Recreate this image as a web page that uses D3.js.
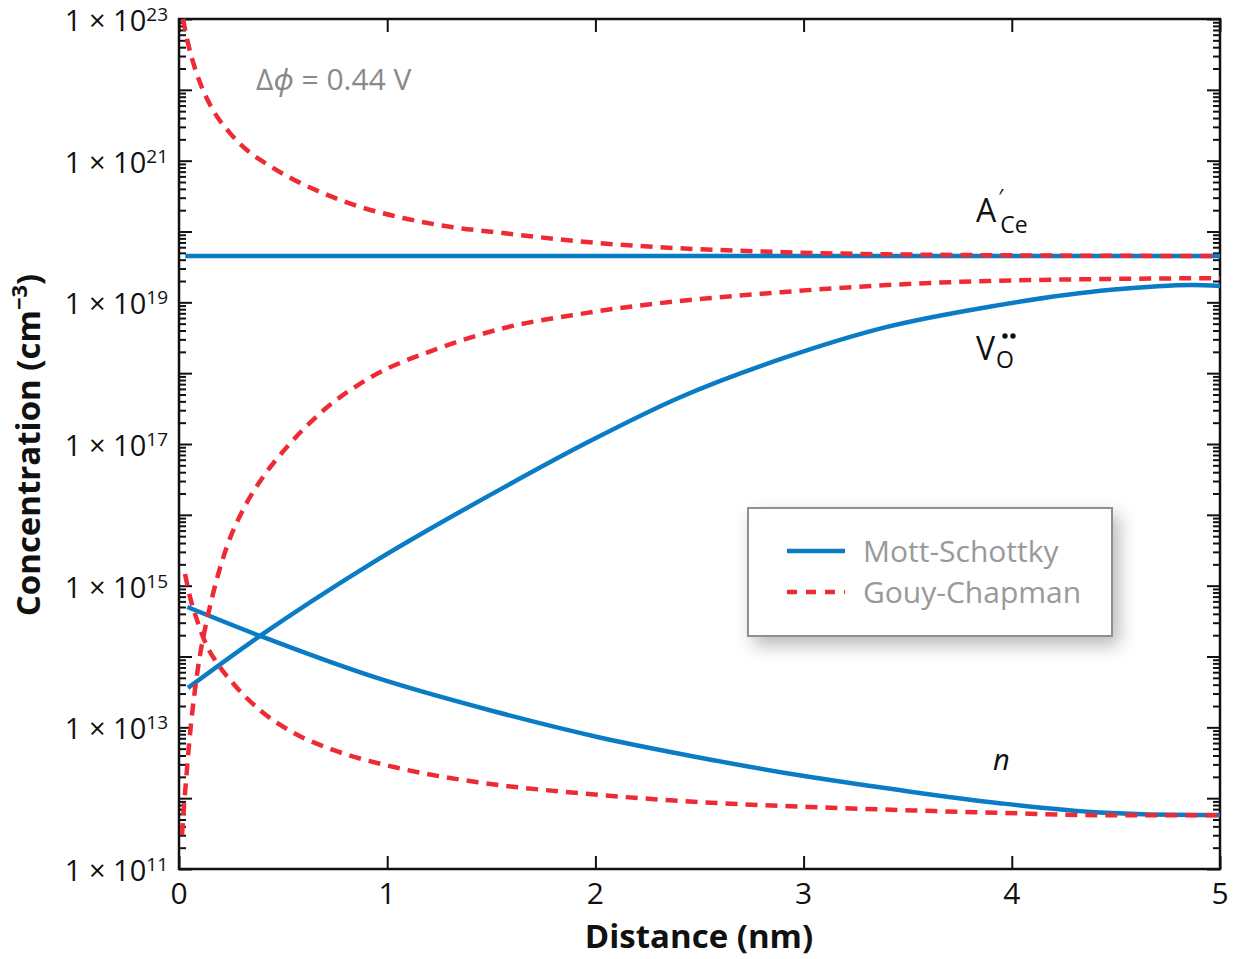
<!DOCTYPE html>
<html>
<head>
<meta charset="utf-8">
<script src="https://cdn.jsdelivr.net/npm/d3@7"></script>
<style>
  body { margin: 0; background: #fff; }
  svg { display: block; font-family: "Open Sans", "Noto Sans", sans-serif; }
</style>
</head>
<body>
<svg width="1238" height="959"></svg>
<script>
// ---- data (distance in nm, concentration in cm^-3) ----
var msAceX = [0.03, 5.0];
var msAceY = [4.5e19, 4.5e19];

var msVoX = [0.043, 0.389, 0.917, 1.556, 1.974, 2.402, 2.906, 3.401, 3.886, 4.476, 4.866, 5.0];
var msVoY = [3.6e13, 1.95e14, 2.0e15, 2.4e16, 1.1e17, 4.5e17, 1.64e18, 4.5e18, 8.6e18, 1.5e19, 1.76e19, 1.7e19];

var msNX = [0.04, 0.39, 0.94, 1.52, 2.02, 2.51, 2.98, 3.46, 3.94, 4.42, 4.90, 5.0];
var msNY = [5.0e14, 1.95e14, 5.1e13, 1.66e13, 7.2e12, 3.7e12, 2.1e12, 1.3e12, 8.5e11, 6.3e11, 5.8e11, 5.8e11];

var gcAceX = [0.019, 0.043, 0.077, 0.115, 0.163, 0.245, 0.341, 0.437, 0.567, 0.69, 0.855, 1.076, 1.316, 1.556, 1.96, 2.906, 3.593, 5.0];
var gcAceY = [1e23, 4.6e22, 2.0e22, 1.0e22, 5.2e21, 2.45e21, 1.3e21, 8.4e20, 5.1e20, 3.5e20, 2.3e20, 1.55e20, 1.15e20, 9.5e19, 7.1e19, 5.1e19, 4.7e19, 4.5e19];

var gcVoX = [0.0144, 0.024, 0.034, 0.048, 0.0624, 0.0817, 0.101, 0.130, 0.163, 0.2305, 0.307, 0.403, 0.519, 0.677, 0.917, 1.239, 1.556, 1.96, 2.906, 3.886, 5.0];
var gcVoY = [3.0e11, 7.8e11, 1.8e12, 5.6e12, 1.5e13, 4.4e13, 1.05e14, 2.9e14, 7.6e14, 3.6e15, 1.17e16, 3.4e16, 9.1e16, 2.7e17, 8.6e17, 2.2e18, 4.3e18, 7.1e18, 1.4e19, 2.0e19, 2.2e19];

var gcNX = [0.029, 0.053, 0.082, 0.110, 0.139, 0.173, 0.250, 0.389, 0.543, 0.740, 1.033, 1.427, 1.916, 2.502, 3.031, 3.463, 3.943, 4.424, 5.0];
var gcNY = [1.46e15, 6.9e14, 3.6e14, 2.07e14, 1.32e14, 8.9e13, 4.5e13, 1.75e13, 8.6e12, 4.8e12, 2.75e12, 1.69e12, 1.18e12, 8.8e11, 7.5e11, 6.8e11, 6.2e11, 5.75e11, 5.75e11];

var xTicks = [0, 1, 2, 3, 4, 5];
var yLabelExps = [11, 13, 15, 17, 19, 21, 23];
var legendNames = ["Mott-Schottky", "Gouy-Chapman"];

var blue = "#0a7cc6";
var red = "#ee2a35";

var svg = d3.select("svg");
var pLeft = 179, pRight = 1220, pTop = 19, pBottom = 869;

var x = d3.scaleLinear().domain([0, 5]).range([pLeft, pRight]);
var y = d3.scaleLog().domain([1e11, 1e23]).range([pBottom, pTop]);

// shadow for legend
var defs = svg.append("defs");
var f = defs.append("filter").attr("id", "shadow")
  .attr("x", "-20%").attr("y", "-30%").attr("width", "150%").attr("height", "170%");
f.append("feDropShadow").attr("dx", 6).attr("dy", 8).attr("stdDeviation", 9)
  .attr("flood-color", "#000").attr("flood-opacity", 0.28);

// ---- ticks ----
var majors = d3.range(11, 24).map(function (e) { return Math.pow(10, e); });
var minors = [];
for (var e = 11; e < 23; e++) {
  for (var k = 2; k <= 9; k++) minors.push(k * Math.pow(10, e));
}

function yAxis(gen, vals, size, tx) {
  svg.append("g").attr("transform", "translate(" + tx + ",0)")
    .call(gen(y).tickValues(vals).tickSize(size).tickFormat(""))
    .call(function (g) { g.select(".domain").remove(); })
    .selectAll("line").attr("stroke", "#111").attr("stroke-width", 2);
}
yAxis(d3.axisLeft, majors, -13, pLeft);
yAxis(d3.axisLeft, minors, -7, pLeft);
yAxis(d3.axisRight, majors, -13, pRight);
yAxis(d3.axisRight, minors, -7, pRight);

function xAxis(gen, ty) {
  svg.append("g").attr("transform", "translate(0," + ty + ")")
    .call(gen(x).tickValues(xTicks).tickSize(-13).tickFormat(""))
    .call(function (g) { g.select(".domain").remove(); })
    .selectAll("line").attr("stroke", "#111").attr("stroke-width", 2);
}
xAxis(d3.axisBottom, pBottom);
xAxis(d3.axisTop, pTop);

// frame
svg.append("rect").attr("x", pLeft).attr("y", pTop)
  .attr("width", pRight - pLeft).attr("height", pBottom - pTop)
  .attr("fill", "none").attr("stroke", "#111").attr("stroke-width", 2.5);

// tick labels
xTicks.forEach(function (t) {
  svg.append("text").attr("x", x(t)).attr("y", pBottom + 35)
    .attr("text-anchor", "middle").attr("font-size", 30).attr("fill", "#111").text(t);
});
yLabelExps.forEach(function (ex) {
  var t = svg.append("text").attr("x", 168).attr("y", y(Math.pow(10, ex)) + 12)
    .attr("text-anchor", "end").attr("font-size", 29).attr("fill", "#111");
  t.append("tspan").text("1 \u00d7 10");
  t.append("tspan").attr("dy", -10).attr("font-size", 19).text(ex);
});

// axis titles
svg.append("text").attr("x", 699).attr("y", 948).attr("text-anchor", "middle")
  .attr("font-size", 33).attr("font-weight", "bold").attr("fill", "#111")
  .text("Distance (nm)");
var yt = svg.append("text").attr("transform", "translate(40,445) rotate(-90)")
  .attr("text-anchor", "middle").attr("font-size", 33).attr("font-weight", "bold").attr("fill", "#111");
yt.append("tspan").text("Concentration (cm");
yt.append("tspan").attr("dy", -13).attr("font-size", 22).text("\u22123");
yt.append("tspan").attr("dy", 13).text(")");

// ---- curves ----
var line = d3.line().x(function (d) { return x(d[0]); }).y(function (d) { return y(d[1]); })
  .curve(d3.curveMonotoneX);

function series(xs, ys) { return xs.map(function (v, i) { return [v, ys[i]]; }); }

var plot = svg.append("g");
function draw(xs, ys, color, dashed) {
  plot.append("path").datum(series(xs, ys)).attr("d", line)
    .attr("fill", "none").attr("stroke", color).attr("stroke-width", 4.5)
    .attr("stroke-dasharray", dashed ? "12,8" : null);
}
draw(msAceX, msAceY, blue, false);
draw(msVoX, msVoY, blue, false);
draw(msNX, msNY, blue, false);
draw(gcAceX, gcAceY, red, true);
draw(gcVoX, gcVoY, red, true);
draw(gcNX, gcNY, red, true);

// ---- annotations ----
var dp = svg.append("text").attr("x", 256).attr("y", 90).attr("font-size", 30).attr("fill", "#8a8a8a");
dp.append("tspan").text("\u0394");
dp.append("tspan").attr("font-style", "italic").text("\u03d5");
dp.append("tspan").text(" = 0.44 V");

var a = svg.append("text").attr("x", 976).attr("y", 222).attr("font-size", 32).attr("fill", "#111");
a.append("tspan").text("A");
a.append("tspan").attr("dx", 2).attr("dy", -17).attr("font-size", 22).text("\u2032");
a.append("tspan").attr("dx", -3).attr("dy", 28).attr("font-size", 23).text("Ce");

var v = svg.append("text").attr("x", 976).attr("y", 360).attr("font-size", 32).attr("fill", "#111");
v.append("tspan").text("V");
v.append("tspan").attr("dx", 1).attr("dy", 8).attr("font-size", 23).text("O");
svg.append("circle").attr("cx", 1005).attr("cy", 336).attr("r", 2.7).attr("fill", "#111");
svg.append("circle").attr("cx", 1013).attr("cy", 336).attr("r", 2.7).attr("fill", "#111");

svg.append("text").attr("x", 993).attr("y", 770).attr("font-size", 29)
  .attr("font-style", "italic").attr("fill", "#111").text("n");

// ---- legend ----
var lg = svg.append("g");
lg.append("rect").attr("x", 748).attr("y", 508).attr("width", 364).attr("height", 128)
  .attr("fill", "#fff").attr("stroke", "#8f8f8f").attr("stroke-width", 2)
  .attr("filter", "url(#shadow)");
[blue, red].forEach(function (c, i) {
  var yy = 551 + i * 41;
  lg.append("line").attr("x1", 787).attr("x2", 845).attr("y1", yy).attr("y2", yy)
    .attr("stroke", c).attr("stroke-width", 4.5).attr("stroke-dasharray", i ? "10,9" : null);
  lg.append("text").attr("x", 863).attr("y", yy + 11).attr("font-size", 30)
    .attr("fill", "#999").text(legendNames[i]);
});
</script>
</body>
</html>
